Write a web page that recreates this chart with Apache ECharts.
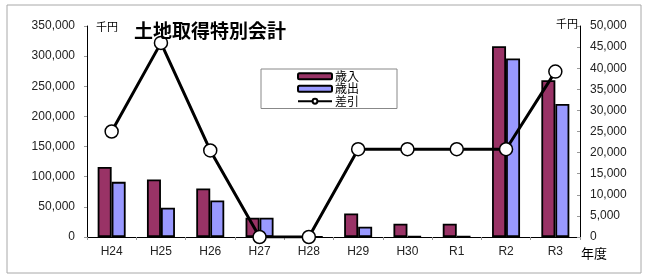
<!DOCTYPE html>
<html><head><meta charset="utf-8">
<script src="https://cdn.jsdelivr.net/npm/echarts@6/dist/echarts.min.js"></script>
<style>html,body{margin:0;padding:0;background:#fff}#c{width:646px;height:275px}</style>
</head><body><div id="c"></div>
<script>
const categories = ['H24','H25','H26','H27','H28','H29','H30','R1','R2','R3'];
const revenue = [116000, 95500, 80500, 32000, 300, 39000, 22000, 22000, 316500, 260000];
const expenditure = [91500, 48500, 60500, 32000, 300, 17000, 1000, 800, 296000, 220500];
const balance = [25000, 46000, 20500, 0, 0, 20800, 20800, 20800, 20800, 39200];
const leftTicks = {min: 0, max: 350000, interval: 50000};
const rightTicks = {min: 0, max: 50000, interval: 5000};

const numFont = 'Liberation Sans, Arial, sans-serif';
const jpFont = 'Noto Sans CJK JP, sans-serif';
const fmt = v => Number(v).toLocaleString('en-US');

const chart = echarts.init(document.getElementById('c'), null, {renderer: 'canvas'});
chart.setOption({
  animation: false,
  backgroundColor: '#fff',
  title: {
    text: '土地取得特別会計', left: 129, top: 16,
    textStyle: {fontFamily: jpFont, fontSize: 19, fontWeight: 'bold', color: '#000'}
  },
  graphic: [
    {type: 'rect', shape: {x: 7, y: 5, width: 634, height: 268}, style: {fill: 'none', stroke: '#a8a8a8', lineWidth: 1}, silent: true},
    {type: 'text', left: 96, top: 21, style: {text: '千円', fontFamily: jpFont, fontSize: 11, fill: '#000'}},
    {type: 'text', left: 556, top: 18, style: {text: '千円', fontFamily: jpFont, fontSize: 11, fill: '#000'}},
    {type: 'text', left: 581, top: 247, style: {text: '年度', fontFamily: jpFont, fontSize: 13, fill: '#000'}}
  ],
  legend: {
    orient: 'vertical', left: 261, top: 69,
    padding: [1, 38, 1, 36], itemGap: 0, itemWidth: 34, itemHeight: 6,
    backgroundColor: '#fff', borderColor: '#888', borderWidth: 1,
    textStyle: {fontFamily: jpFont, fontSize: 12, lineHeight: 12.5, color: '#000', padding: [0, 0, 0, -2]},
    data: ['歳入', '歳出', '差引']
  },
  grid: {left: 87, right: 66, top: 26, bottom: 38, containLabel: false},
  xAxis: {
    type: 'category', data: categories,
    axisLine: {lineStyle: {color: '#000', width: 1}},
    axisTick: {show: true, length: 3, lineStyle: {color: '#999'}},
    axisLabel: {fontFamily: numFont, fontSize: 12, color: '#222', margin: 9}
  },
  yAxis: [
    {
      type: 'value', min: leftTicks.min, max: leftTicks.max, interval: leftTicks.interval,
      axisLine: {show: true, lineStyle: {color: '#000', width: 1}},
      axisTick: {show: true, length: 3, lineStyle: {color: '#999'}},
      splitLine: {show: false},
      axisLabel: {fontFamily: numFont, fontSize: 12, color: '#222', margin: 12, formatter: fmt}
    },
    {
      type: 'value', min: rightTicks.min, max: rightTicks.max, interval: rightTicks.interval,
      position: 'right',
      axisLine: {show: true, lineStyle: {color: '#000', width: 1}},
      axisTick: {show: true, inside: true, length: 3, lineStyle: {color: '#999'}},
      splitLine: {show: false},
      axisLabel: {fontFamily: numFont, fontSize: 12, color: '#222', margin: 10, formatter: fmt}
    }
  ],
  series: [
    {
      name: '歳入', type: 'bar', data: revenue, barWidth: 14, barGap: '0%',
      itemStyle: {color: '#993366', borderColor: '#000', borderWidth: 1.8}
    },
    {
      name: '歳出', type: 'bar', data: expenditure, barWidth: 14, barGap: '0%',
      itemStyle: {color: '#9999ff', borderColor: '#000', borderWidth: 1.8}
    },
    {
      name: '差引', type: 'line', yAxisIndex: 1, data: balance, z: 5,
      symbol: 'circle', symbolSize: 13,
      lineStyle: {color: '#000', width: 3},
      itemStyle: {color: '#fff', borderColor: '#000', borderWidth: 1.5}
    }
  ]
});
</script></body></html>
